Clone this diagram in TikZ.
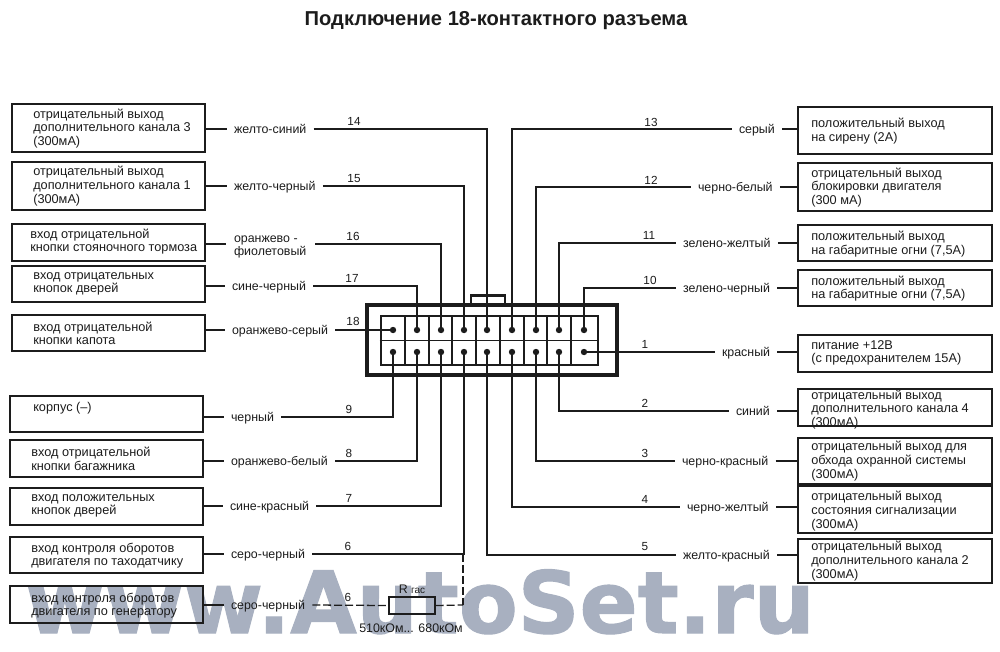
\documentclass[tikz,border=0pt]{standalone}
\usepackage{fontspec}
\setmainfont{Liberation Sans}
\newfontfamily\wmfont[BoldFeatures={FakeBold=1.2}]{DejaVu Sans}
\definecolor{ink}{HTML}{1C1C1C}
\definecolor{wm}{HTML}{A8B0C0}
\newcommand{\bx}[8]{%
  \node[boxn,minimum width={(#4-#2)*0.75pt},minimum height={(#5-#3)*0.75pt}] (#1) at ({(#2+#4)/2},{(#3+#5)/2}) {};
  \node[boxt] (#1t) at (#6,#7+1) {#8};}
\newcommand{\wl}[5]{\node[#5] (#1) at (#2-7.33,#3) {#4};}
\begin{document}
\begin{tikzpicture}[x=0.75pt,y=-0.75pt,
  boxn/.style={draw=ink,line width=1.5pt,inner sep=0pt,outer sep=0pt},
  boxt/.style={anchor=west,align=left,inner sep=0pt,text=ink,font=\fontsize{9.55pt}{10.2pt}\selectfont},
  wlab/.style={anchor=west,inner sep=0pt,outer sep=5.5pt,text=ink,font=\fontsize{9.3pt}{10.2pt}\selectfont,text height=8pt,text depth=1.5pt,align=left},
  num/.style={inner sep=0pt,text=ink,font=\fontsize{8.8pt}{10pt}\selectfont},
  wire/.style={draw=ink,line width=0.95pt},
  pin/.style={circle,fill=ink,minimum size=4.8pt,inner sep=0pt,outer sep=0pt},
  dwire/.style={wire,dash pattern=on 6pt off 2.2pt}]
\useasboundingbox (0,0) rectangle (1000,651);
\fill[white] (0,0) rectangle (1000,651);
% watermark
\node[anchor=base west,inner sep=0pt,text=wm,font=\wmfont\bfseries\fontsize{74pt}{80pt}\selectfont] (wmark) at (25,633) {\resizebox{592pt}{!}{www.AutoSet.ru}};
% title
\node[inner sep=0pt,text=ink,font=\bfseries\fontsize{15.1pt}{18pt}\selectfont] (title) at (496,21) {Подключение 18-контактного разъема};
% connector
\node[draw=ink,line width=2.3pt,minimum width={250*0.75pt},minimum height={70*0.75pt},inner sep=0pt] (outer) at (492,340) {};
\node[draw=ink,line width=2pt,minimum width={217*0.75pt},minimum height={49*0.75pt},inner sep=0pt] (inner) at (489.5,340.5) {};
\coordinate (tabL) at (471,305);
\coordinate (tabLt) at (471,295.5);
\coordinate (tabRt) at (505,295.5);
\coordinate (tabR) at (505,305);
\draw[ink,line width=1.6pt] (tabL) -- (tabLt) -- (tabRt) -- (tabR);
\draw[ink,line width=0.8pt] (inner.west) -- (inner.east);
\foreach \X in {405,429,452,476,500,524,547,571} \draw[ink,line width=0.8pt] (\X,316) -- (\X,365);
\foreach \N/\X in {18/393,17/417,16/441,15/464,14/487,13/512,12/536,11/559,10/584} \node[pin] (p\N) at (\X,330) {};
\foreach \N/\X in {9/393,8/417,7/441,6/464,5/487,4/512,3/536,2/559,1/584} \node[pin] (p\N) at (\X,352) {};
% left boxes
\bx{b14}{12}{104}{205}{152}{33}{127.5}{отрицательный выход\\дополнительного канала 3\\(300мА)}
\bx{b15}{12}{162}{205}{210}{33}{185}{отрицательный выход\\дополнительного канала 1\\(300мА)}
\bx{b16}{12}{224}{205}{261}{30}{240.5}{вход отрицательной\\кнопки стояночного тормоза}
\bx{b17}{12}{266}{205}{302}{33}{283}{вход отрицательных\\кнопок дверей}
\bx{b18}{12}{315}{205}{351}{33}{332.5}{вход отрицательной\\кнопки капота}
\bx{b9}{10}{396}{203}{432}{33}{407}{корпус (–)}
\bx{b8}{10}{440}{203}{477}{31}{458}{вход отрицательной\\кнопки багажника}
\bx{b7}{10}{488}{203}{525}{31}{505}{вход положительных\\кнопок дверей}
\bx{b6}{10}{537}{203}{573}{31}{554.5}{вход контроля оборотов\\двигателя по таходатчику}
\bx{b6g}{10}{586}{203}{623}{31}{604.5}{вход контроля оборотов\\двигателя по генератору}
% right boxes
\bx{b13}{798}{107}{992}{154}{811}{130}{положительный выход\\на сирену (2А)}
\bx{b12}{798}{163}{992}{211}{811}{186.5}{отрицательный  выход\\блокировки двигателя\\(300 мА)}
\bx{b11}{798}{225}{992}{261}{811}{243}{положительный выход\\на габаритные огни (7,5А)}
\bx{b10}{798}{270}{992}{306}{811}{287.5}{положительный выход\\на габаритные огни (7,5А)}
\bx{b1}{798}{335}{992}{372}{811}{352}{питание +12В\\(с предохранителем 15А)}
\bx{b2}{798}{389}{992}{426}{811}{408.5}{отрицательный выход\\дополнительного канала 4\\(300мА)}
\bx{b3}{798}{438}{992}{484}{811}{460}{отрицательный выход для\\обхода охранной системы\\(300мА)}
\bx{b4}{798}{486}{992}{533}{811}{510}{отрицательный выход\\состояния сигнализации\\(300мА)}
\bx{b5}{798}{539}{992}{583}{811}{560}{отрицательный выход\\дополнительного канала 2\\(300мА)}
% wire labels
\wl{w14}{234}{129}{желто-синий}{wlab}
\wl{w15}{234}{186}{желто-черный}{wlab}
\node[wlab,text height=,text depth=] (w16) at (234-7.33,247) {оранжево -\\фиолетовый};
\coordinate (w16r) at (315,244);
\coordinate (w16l) at (226,244);
\wl{w17}{232}{286}{сине-черный}{wlab}
\wl{w18}{232}{330}{оранжево-серый}{wlab}
\wl{w9}{231}{417}{черный}{wlab}
\wl{w8}{231}{461}{оранжево-белый}{wlab}
\wl{w7}{230}{506}{сине-красный}{wlab}
\wl{w6}{231}{554}{серо-черный}{wlab}
\wl{w6g}{231}{605}{серо-черный}{wlab}
\wl{w13}{739}{129}{серый}{wlab}
\wl{w12}{698}{187}{черно-белый}{wlab}
\wl{w11}{683}{243}{зелено-желтый}{wlab}
\wl{w10}{683}{288}{зелено-черный}{wlab}
\wl{w1}{722}{352}{красный}{wlab}
\wl{w2}{736}{411}{синий}{wlab}
\wl{w3}{682}{461}{черно-красный}{wlab}
\wl{w4}{687}{507}{черно-желтый}{wlab}
\wl{w5}{683}{555}{желто-красный}{wlab}
% numbers
\foreach \T/\X/\Y in {14/354/121,15/354/179,16/353/236,17/352/278,18/353/321,9/349/409,8/349/453,7/349/498,6/348/546,13/651/122,12/651/180,11/649/235,10/650/280,1/645/344,2/645/403,3/645/453,4/645/499,5/645/547}
  \node[num] (n\T) at (\X,\Y) {\T};
\node[num] (n6g) at (348,597) {6};
% wires: left
\foreach \N in {14,15,17,18,9,8,7,6} {
  \draw[wire] (b\N.east |- w\N.west) -- (w\N.west);
  \draw[wire] (w\N.east) -| (p\N);
}
\draw[wire] (b16.east |- w16l) -- (w16l);
\draw[wire] (w16r) -| (p16);
% wires: right
\foreach \N in {13,12,11,10,1,2,3,4,5} {
  \draw[wire] (w\N.east) -- (b\N.west |- w\N.east);
  \draw[wire] (w\N.west) -| (p\N);
}
% tachometer / generator branch
\node[draw=ink,line width=1.1pt,minimum width={46*0.75pt},minimum height={17*0.75pt},inner sep=0pt] (rgas) at (412,605.5) {};
\node[inner sep=0pt,text=ink,font=\fontsize{9.3pt}{10pt}\selectfont] (rlab) at (412,589) {R {\fontsize{7.5pt}{8pt}\selectfont гас}};
\node[inner sep=0pt,text=ink,font=\fontsize{9.3pt}{10pt}\selectfont] (rval) at (411,628) {510кОм... 680кОм};
\coordinate (j6) at (463,554);
\coordinate (j6g) at (463,605);
\draw[wire] (b6g.east |- w6g.west) -- (w6g.west);
\draw[dwire] (w6g.east) -- (rgas.west);
\draw[dwire] (rgas.east) -- (j6g);
\draw[dwire] (j6) -- (j6g);
\end{tikzpicture}
\end{document}
